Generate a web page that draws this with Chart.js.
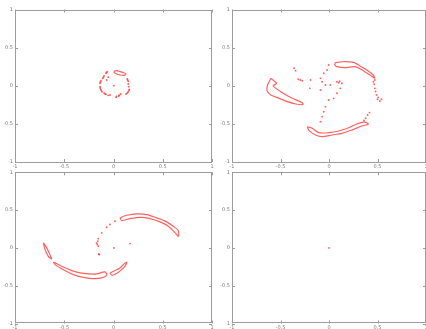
<!DOCTYPE html>
<html>
<head>
<meta charset="utf-8">
<script src="https://cdn.jsdelivr.net/npm/chart.js@4"></script>
<style>
  html, body { margin: 0; padding: 0; background: #fff; }
  body { position: relative; width: 426px; height: 329px; overflow: hidden; }
  canvas { position: absolute; }
</style>
</head>
<body>
<canvas id="tl"></canvas>
<canvas id="tr"></canvas>
<canvas id="bl"></canvas>
<canvas id="br"></canvas>
<script>
'use strict';

// ── shared axis ticks ──
const axisMin = -1, axisMax = 1, axisStep = 0.5;

// ── top left ──
const tlCapsule = [[0.008,0.193],[0.032,0.198],[0.066,0.185],[0.100,0.172],[0.127,0.154],[0.107,0.137],[0.066,0.141],[0.032,0.154],[0.008,0.172],[0.008,0.193]];
const tlDots = [[-0.063,0.185],[-0.070,0.175],[-0.076,0.163],[-0.096,0.128],[-0.103,0.112],[-0.110,0.097],[-0.127,0.066],[-0.133,0.050],
  [-0.137,0.032],[-0.137,-0.012],[-0.135,-0.030],[-0.130,-0.047],[-0.124,-0.062],[-0.117,-0.078],[-0.096,-0.099],[-0.085,-0.108],
  [-0.076,-0.113],[-0.053,-0.126],[-0.036,-0.121],[0.025,-0.152],[0.030,-0.140],[0.053,-0.134],[0.060,-0.125],[0.073,-0.108],
  [0.127,-0.108],[0.140,-0.095],[0.150,-0.078],[0.158,-0.060],[0.160,-0.047],[0.154,-0.012],[0.150,0.023],[0.150,0.060],
  [0.144,0.075],[0.140,0.090],[-0.053,0.111],[-0.069,0.075],[0.005,0.001]];

// ── top right ──
const trArm = [[-0.599,0.097],[-0.541,0.032],[-0.575,-0.003],[-0.480,-0.091],[-0.378,-0.165],[-0.276,-0.222],[-0.269,-0.248],
  [-0.344,-0.239],[-0.429,-0.209],[-0.514,-0.165],[-0.599,-0.121],[-0.639,-0.065],[-0.633,0.010],[-0.599,0.097]];
const trBottom = [[-0.224,-0.537],[-0.173,-0.558],[-0.105,-0.615],[-0.003,-0.615],[0.099,-0.594],[0.201,-0.550],[0.303,-0.494],
  [0.371,-0.476],[0.405,-0.502],[0.337,-0.528],[0.235,-0.580],[0.133,-0.624],[0.031,-0.646],[-0.071,-0.668],[-0.139,-0.646],
  [-0.207,-0.585],[-0.224,-0.537]];
const trTop = [[0.065,0.303],[0.133,0.315],[0.252,0.307],[0.320,0.259],[0.405,0.194],[0.456,0.141],[0.470,0.100],[0.422,0.141],
  [0.354,0.198],[0.269,0.250],[0.167,0.237],[0.082,0.250],[0.060,0.275],[0.065,0.303]];
const trDots = [[0.473,0.075],[0.458,0.053],[0.466,0.020],[0.473,-0.034],[0.480,-0.075],[0.490,-0.121],[0.507,-0.152],[0.541,-0.178],
  [0.524,-0.200],[0.500,-0.178],[0.378,-0.427],[0.398,-0.384],[0.418,-0.352],[0.360,-0.455],
  [-0.003,0.272],[-0.020,0.207],[-0.054,0.163],[-0.088,0.097],[-0.071,0.053],[-0.037,0.010],[0.014,0.010],[0.082,0.053],
  [0.133,0.032],[0.116,-0.034],[0.082,-0.099],[0.048,-0.165],[-0.003,-0.187],[-0.037,-0.274],[-0.054,-0.340],[-0.071,-0.405],
  [-0.088,-0.471],[-0.360,0.229],[-0.344,0.198],[-0.316,0.085],[-0.276,0.066],[-0.296,0.075],[-0.190,0.075],[-0.197,-0.034],
  [-0.088,-0.056],[0.099,0.040],[0.110,0.060]];

// ── bottom left ──
const blUpper = [[0.066,0.397],[0.134,0.432],[0.236,0.450],[0.337,0.441],[0.439,0.397],[0.540,0.344],[0.607,0.286],[0.658,0.229],
  [0.658,0.154],[0.630,0.195],[0.556,0.286],[0.472,0.344],[0.371,0.388],[0.269,0.405],[0.168,0.388],[0.083,0.362],[0.066,0.397]];
const blTip = [[-0.712,0.066],[-0.678,0.000],[-0.645,-0.089],[-0.628,-0.146],[-0.662,-0.111],[-0.695,-0.023],[-0.712,0.066]];
const blLower = [[-0.611,-0.186],[-0.526,-0.243],[-0.424,-0.300],[-0.340,-0.331],[-0.256,-0.344],[-0.171,-0.344],[-0.086,-0.318],
  [-0.069,-0.362],[-0.120,-0.397],[-0.205,-0.407],[-0.307,-0.389],[-0.408,-0.353],[-0.510,-0.287],[-0.594,-0.221],[-0.611,-0.186]];
const blRight = [[-0.036,-0.331],[0.015,-0.300],[0.066,-0.265],[0.100,-0.221],[0.134,-0.186],[0.117,-0.243],[0.083,-0.287],
  [0.039,-0.331],[-0.018,-0.362],[-0.036,-0.331]];
const blDots = [[0.015,0.353],[-0.036,0.309],[-0.069,0.273],[-0.120,0.199],[-0.154,0.123],[-0.160,0.090],[-0.171,0.066],
  [-0.165,0.045],[-0.154,0.022],[-0.150,-0.080],[-0.144,-0.089],[0.168,0.057],[0.005,0.000]];

// ── bottom right ──
const brDots = [[0,0]];

const RED = 'rgba(255,30,30,0.7)';
const toXY = arr => arr.map(([x, y]) => ({ x, y }));

function loop(arr) {
  return { data: toXY(arr), showLine: true, borderColor: RED, borderWidth: 1.2, pointRadius: 0, tension: 0.3, fill: false };
}
function dots(arr) {
  return { data: toXY(arr), showLine: false, backgroundColor: RED, borderWidth: 0, pointRadius: 0.95 };
}

// frame + inward tick marks
const framePlugin = {
  id: 'frame',
  beforeDatasetsDraw(chart) {
    const { ctx, chartArea: a, scales: { x, y } } = chart;
    ctx.save();
    ctx.strokeStyle = '#9c9c9c';
    ctx.lineWidth = 1;
    ctx.strokeRect(Math.round(a.left) + 0.5, Math.round(a.top) + 0.5, Math.round(a.width) - 1, Math.round(a.height) - 1);
    ctx.beginPath();
    x.ticks.forEach(t => {
      const px = Math.round(x.getPixelForValue(t.value)) + 0.5;
      ctx.moveTo(px, a.bottom); ctx.lineTo(px, a.bottom - 3);
      ctx.moveTo(px, a.top); ctx.lineTo(px, a.top + 3);
    });
    y.ticks.forEach(t => {
      const py = Math.round(y.getPixelForValue(t.value)) + 0.5;
      ctx.moveTo(a.left, py); ctx.lineTo(a.left + 3, py);
      ctx.moveTo(a.right, py); ctx.lineTo(a.right - 3, py);
    });
    ctx.stroke();
    ctx.restore();
  }
};

function panel(id, pos, area, datasets) {
  const el = document.getElementById(id);
  el.width = pos.w; el.height = pos.h;
  el.style.left = pos.left + 'px'; el.style.top = pos.top + 'px';
  const font = { family: "'DejaVu Sans', sans-serif", size: 5 };
  return new Chart(el, {
    type: 'scatter',
    data: { datasets },
    options: {
      responsive: false, animation: false, devicePixelRatio: 1,
      layout: { padding: { left: 0, top: area.top, right: pos.w - area.right, bottom: 0 } },
      plugins: { legend: { display: false }, tooltip: { enabled: false } },
      scales: {
        x: {
          min: axisMin, max: axisMax,
          ticks: { stepSize: axisStep, font, color: '#7a7a7a', padding: 1.5, maxRotation: 0, callback: v => String(v) },
          grid: { display: false, drawTicks: false }, border: { display: false },
          afterFit: s => { s.height = pos.h - area.bottom; }
        },
        y: {
          min: axisMin, max: axisMax,
          ticks: { stepSize: axisStep, font, color: '#7a7a7a', padding: 2, callback: v => String(v) },
          grid: { display: false, drawTicks: false }, border: { display: false },
          afterFit: s => { s.width = area.left; }
        }
      }
    },
    plugins: [framePlugin]
  });
}

panel('tl', { left: 0, top: 0, w: 217, h: 175 }, { left: 15, top: 9.5, right: 212, bottom: 162 },
  [loop(tlCapsule), dots(tlDots)]);
panel('tr', { left: 213, top: 0, w: 222, h: 175 }, { left: 19, top: 9.5, right: 213, bottom: 162 },
  [loop(trArm), loop(trBottom), loop(trTop), dots(trDots)]);
panel('bl', { left: 0, top: 160, w: 217, h: 175 }, { left: 15, top: 12.3, right: 212, bottom: 163.5 },
  [loop(blUpper), loop(blTip), loop(blLower), loop(blRight), dots(blDots)]);
panel('br', { left: 213, top: 160, w: 222, h: 175 }, { left: 19, top: 12.3, right: 213, bottom: 163.5 },
  [dots(brDots)]);
</script>
</body>
</html>
